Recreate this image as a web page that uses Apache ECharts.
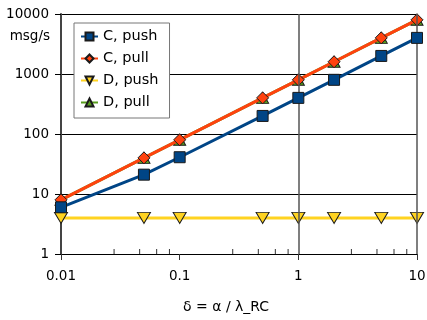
<!DOCTYPE html>
<html>
<head>
<meta charset="utf-8">
<script src="https://cdn.jsdelivr.net/npm/echarts@6/dist/echarts.min.js"></script>
<style>
html,body{margin:0;padding:0;background:#fff;}
#chart{width:427px;height:320px;}
</style>
</head>
<body>
<div id="chart"></div>
<script>
var xValues = [0.01, 0.05, 0.1, 0.5, 1, 2, 5, 10];
var cPush = [6, 21, 41, 200, 400, 800, 2000, 4000];
var cPull = [8, 40, 80, 400, 800, 1600, 4000, 8000];
var dPush = [4, 4, 4, 4, 4, 4, 4, 4];
var dPull = [8, 40, 80, 400, 800, 1600, 4000, 8000];
var seriesNames = ['C, push', 'C, pull', 'D, push', 'D, pull'];
var xMinorTicks = [0.028, 0.046, 0.064, 0.082, 0.28, 0.46, 0.64, 0.82, 2.8, 4.6, 6.4, 8.2];
var xGridValues = [1, 10];
var yUnit = 'msg/s';
var xTitle = 'δ = α / λ_RC';

function pairs(xs, ys) { return xs.map(function (x, i) { return [x, ys[i]]; }); }
function fmt(v) { return String(+Number(v).toPrecision(6)); }

var FONT = 'DejaVu Sans';
var chart = echarts.init(document.getElementById('chart'), null, { renderer: 'canvas' });

var markerBorder = { borderColor: '#1a1a1a', borderWidth: 1 };

chart.setOption({
  animation: false,
  backgroundColor: '#fff',
  grid: { left: 61, right: 10, top: 14, bottom: 66, outerBoundsMode: 'none', containLabel: false },
  xAxis: {
    type: 'log', logBase: 10, min: 0.01, max: 10,
    axisLine: { show: true, onZero: false, lineStyle: { color: '#000', width: 1 } },
    axisTick: { show: true, inside: false, length: 6, lineStyle: { color: '#333', width: 1 } },
    axisLabel: { color: '#000', fontFamily: FONT, fontSize: 13.5, margin: 15, formatter: fmt },
    splitLine: { show: false },
    minorTick: { show: false }
  },
  yAxis: {
    type: 'log', logBase: 10, min: 1, max: 10000,
    axisLine: { show: true, onZero: false, lineStyle: { color: '#444', width: 2 } },
    axisTick: { show: true, inside: false, length: 6, lineStyle: { color: '#000', width: 1 } },
    axisLabel: { color: '#000', fontFamily: FONT, fontSize: 13.5, margin: 12, formatter: fmt },
    splitLine: { show: true, lineStyle: { color: '#000', width: 1 } }
  },
  legend: {
    data: seriesNames,
    orient: 'vertical',
    left: 74, top: 23,
    padding: [5, 11, 7, 6],
    itemWidth: 17, itemHeight: 10, itemGap: 5, itemTextGap: 5,
    backgroundColor: '#fff', borderColor: '#777', borderWidth: 1, borderRadius: 0,
    textStyle: { color: '#000', fontFamily: FONT, fontSize: 14.5, lineHeight: 17 }
  },
  graphic: [
    { type: 'text', right: 427 - 50, top: 29, style: { text: yUnit, fill: '#000', font: '13.5px "DejaVu Sans"', textAlign: 'right' } },
    { type: 'text', left: 183, top: 300, style: { text: xTitle, fill: '#000', font: '14px "DejaVu Sans"' } }
  ],
  series: [
    {
      type: 'custom', coordinateSystem: 'cartesian2d', silent: true, z: 1,
      data: xMinorTicks.map(function (v) { return [v, 1]; }),
      renderItem: function (params, api) {
        var p = api.coord([api.value(0), api.value(1)]);
        return { type: 'line', shape: { x1: p[0], y1: p[1], x2: p[0], y2: p[1] - 5 }, style: { stroke: '#333', lineWidth: 1 } };
      }
    },
    {
      name: 'D, pull', type: 'line', data: pairs(xValues, dPull), z: 2,
      symbol: 'triangle', symbolSize: [12, 11],
      lineStyle: { color: '#579d1c', width: 3 },
      itemStyle: Object.assign({ color: '#579d1c' }, markerBorder),
      markLine: {
        silent: true, symbol: 'none', label: { show: false },
        lineStyle: { color: '#555', width: 1.5, type: 'solid' },
        data: xGridValues.map(function (v) { return { xAxis: v }; })
      }
    },
    {
      name: 'D, push', type: 'line', data: pairs(xValues, dPush), z: 3,
      symbol: 'triangle', symbolRotate: 180, symbolSize: [13, 11],
      lineStyle: { color: '#ffd320', width: 3 },
      itemStyle: Object.assign({ color: '#ffd320' }, markerBorder)
    },
    {
      name: 'C, pull', type: 'line', data: pairs(xValues, cPull), z: 4,
      symbol: 'diamond', symbolSize: [12, 12],
      lineStyle: { color: '#ff420e', width: 3 },
      itemStyle: Object.assign({ color: '#ff420e' }, markerBorder)
    },
    {
      name: 'C, push', type: 'line', data: pairs(xValues, cPush), z: 5,
      symbol: 'rect', symbolSize: [11, 11],
      lineStyle: { color: '#004586', width: 3 },
      itemStyle: Object.assign({ color: '#004586' }, markerBorder)
    }
  ]
});
</script>
</body>
</html>
